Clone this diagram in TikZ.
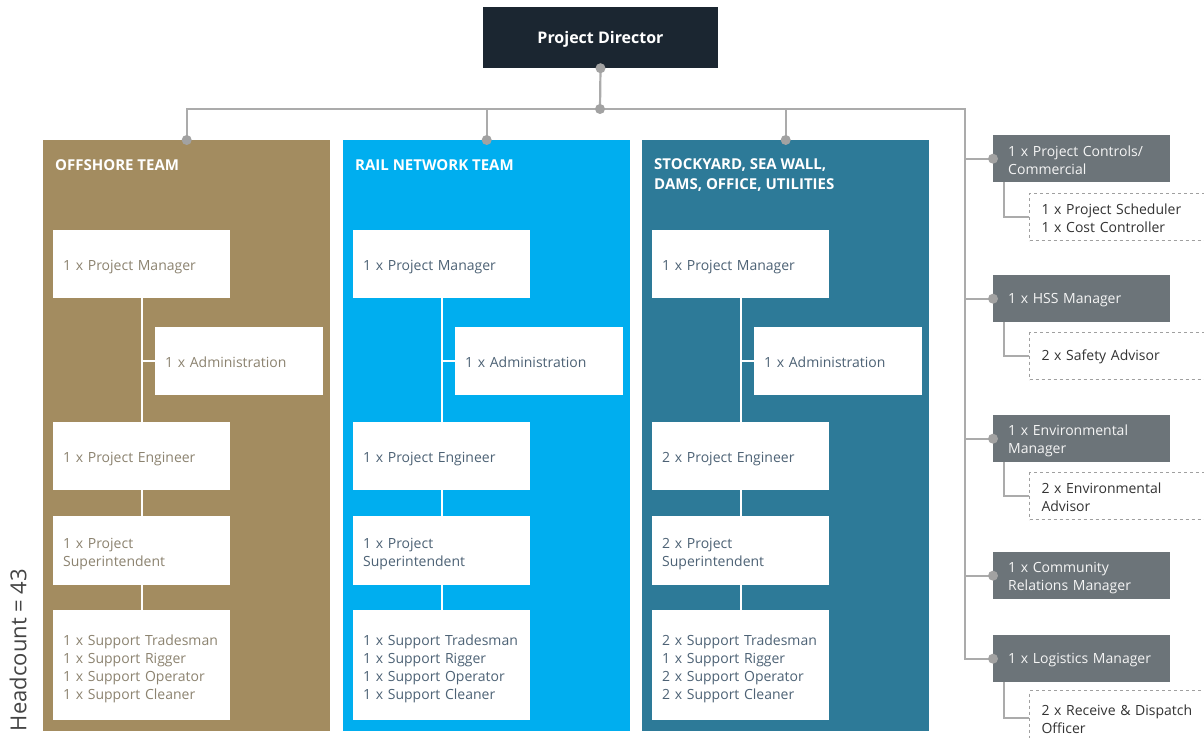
\documentclass[tikz,border=0pt]{standalone}
\usepackage{fontspec}
\setmainfont{Open Sans}
\usetikzlibrary{calc}

\definecolor{dirnavy}{HTML}{1B2631}
\definecolor{offtan}{HTML}{A38C60}
\definecolor{railblue}{HTML}{00AEEF}
\definecolor{stkteal}{HTML}{2D7A98}
\definecolor{offtext}{HTML}{8C8370}
\definecolor{bluetext}{HTML}{4D6275}
\definecolor{boxgray}{HTML}{6C7479}
\definecolor{linegray}{HTML}{ABABAB}
\definecolor{dotgray}{HTML}{A2A2A2}
\definecolor{dashgray}{HTML}{A0A0A0}
\definecolor{headgray}{HTML}{444444}

\tikzset{
  conn/.style={draw=linegray, line width=2.2pt},
  inner/.style={draw=white, line width=2pt},
  panel/.style={fill=#1, anchor=north west, minimum width=287pt,
    minimum height=591pt, inner sep=0pt},
  paneltitle/.style={anchor=north west, inner sep=0pt, align=left,
    text=white, font=\fontsize{15}{20}\selectfont\bfseries},
  % a taller first line sets the text slightly lower in its box
  lower/.style={execute at begin node={\rule[-4pt]{0pt}{#1}}},
  wbox/.style={fill=white, anchor=north west, text width=157pt,
    inner xsep=10pt, inner ysep=0pt, align=left, lower=21pt,
    font=\fontsize{14}{18}\selectfont},
  gbox/.style={fill=boxgray, anchor=north west, text width=147pt,
    inner xsep=15pt, inner ysep=0pt, align=left, text=white!92!gray,
    minimum height=47pt, lower=18.5pt, font=\fontsize{14}{18}\selectfont},
  dbox/.style={fill=white, draw=dashgray, dashed, line width=1pt,
    anchor=north west, text width=160pt, inner xsep=12pt, inner ysep=0pt,
    align=left, text=black!80, minimum height=47pt, lower=17pt,
    font=\fontsize{14}{18}\selectfont},
}

% one team column: #1 name prefix, #2 x shift, #3 text colour,
% #4 engineer line, #5 superintendent line, #6 support lines
\newcommand\teamcolumn[6]{%
  \begin{scope}[xshift=#2pt]
    \node[wbox, text=#3, minimum height=68pt] (#1pm) at (53,230)
      {1 x Project Manager};
    \node[wbox, text=#3, text width=148pt, minimum height=68pt] (#1adm)
      at (155,327) {1 x Administration};
    \node[wbox, text=#3, minimum height=68pt] (#1pe) at (53,422) {#4};
    \node[wbox, text=#3, minimum height=69pt] (#1ps) at (53,516) {#5};
    \node[wbox, text=#3, minimum height=110pt] (#1sup) at (53,610) {#6};
    \draw[inner] (#1pm.south) -- (#1pe.north);
    \draw[inner] (#1pm.south |- #1adm.west) -- (#1adm.west);
    \draw[inner] (#1pe.south) -- (#1ps.north);
    \draw[inner] (#1ps.south) -- (#1sup.north);
  \end{scope}}

\begin{document}
\begin{tikzpicture}[x=1pt, y=-1pt]
  \useasboundingbox (0,0) rectangle (1204,738);
  \fill[white] (0,0) rectangle (1204,738);

  % director
  \node[fill=dirnavy, text=white, minimum width=235pt, minimum height=61pt,
    inner sep=0pt, text height=14pt, text depth=1pt,
    font=\fontsize{16}{20}\selectfont\bfseries]
    (dir) at (600.5,37.5) {Project Director};

  % team panels
  \node[panel=offtan] (off) at (43,140) {};
  \node[panel=railblue] (rail) at (343,140) {};
  \node[panel=stkteal] (stk) at (642,140) {};
  \node[paneltitle] (offt) at (55,159) {OFFSHORE TEAM};
  \node[paneltitle] (railt) at (355,159) {RAIL NETWORK TEAM};
  \node[paneltitle] (stkt) at (654,158.5)
    {STOCKYARD, SEA WALL,\\DAMS, OFFICE, UTILITIES};

  \teamcolumn{o}{0}{offtext}{1 x Project Engineer}
    {1 x Project\\Superintendent}
    {1 x Support Tradesman\\1 x Support Rigger\\1 x Support Operator\\1 x Support Cleaner}
  \teamcolumn{r}{300}{bluetext}{1 x Project Engineer}
    {1 x Project\\Superintendent}
    {1 x Support Tradesman\\1 x Support Rigger\\1 x Support Operator\\1 x Support Cleaner}
  \teamcolumn{s}{599}{bluetext}{2 x Project Engineer}
    {2 x Project\\Superintendent}
    {2 x Support Tradesman\\1 x Support Rigger\\2 x Support Operator\\2 x Support Cleaner}

  % support functions on the right
  \node[gbox] (ctl) at (993,135) {1 x Project Controls/\\Commercial};
  \node[dbox] (ctls) at (1029,193) {1 x Project Scheduler\\1 x Cost Controller};
  \node[gbox] (hss) at (993,275) {1 x HSS Manager};
  \node[dbox] (hsss) at (1029,332) {2 x Safety Advisor};
  \node[gbox] (env) at (993,415) {1 x Environmental\\Manager};
  \node[dbox] (envs) at (1029,472) {2 x Environmental\\Advisor};
  \node[gbox] (com) at (993,552) {1 x Community\\Relations Manager};
  \node[gbox] (log) at (993,635) {1 x Logistics Manager};
  \node[dbox, minimum height=55pt] (logs) at (1029,690)
    {2 x Receive \& Dispatch\\Officer};

  % headcount
  \node[rotate=90, text=headgray, font=\fontsize{22}{26}\selectfont]
    (hc) at (18,650) {Headcount = 43};

  % connectors
  \coordinate (j) at (600,109);
  \coordinate (rtop) at (965,109);
  \draw[conn] (dir.south) -- (j);
  \draw[conn] (off.north) |- (rtop) |- (log.west);
  \draw[conn] (j -| rail.north) -- (rail.north);
  \draw[conn] (j -| stk.north) -- (stk.north);
  \foreach \b in {ctl,hss,env,com}
    \draw[conn] (rtop |- \b.west) -- (\b.west);
  \draw[conn] ($(ctl.south west)+(11,0)$) |- (ctls.west);
  \draw[conn] ($(hss.south west)+(11,0)$) |- (hsss.west);
  \draw[conn] ($(env.south west)+(11,0)$) |- (envs.west);
  \draw[conn] ($(log.south west)+(11,0)$) |- (logs.west);

  % junction dots
  \foreach \p in {dir.south, j, off.north, rail.north, stk.north,
      ctl.west, hss.west, env.west, com.west, log.west}
    \fill[dotgray] (\p) circle (5pt);
\end{tikzpicture}
\end{document}
